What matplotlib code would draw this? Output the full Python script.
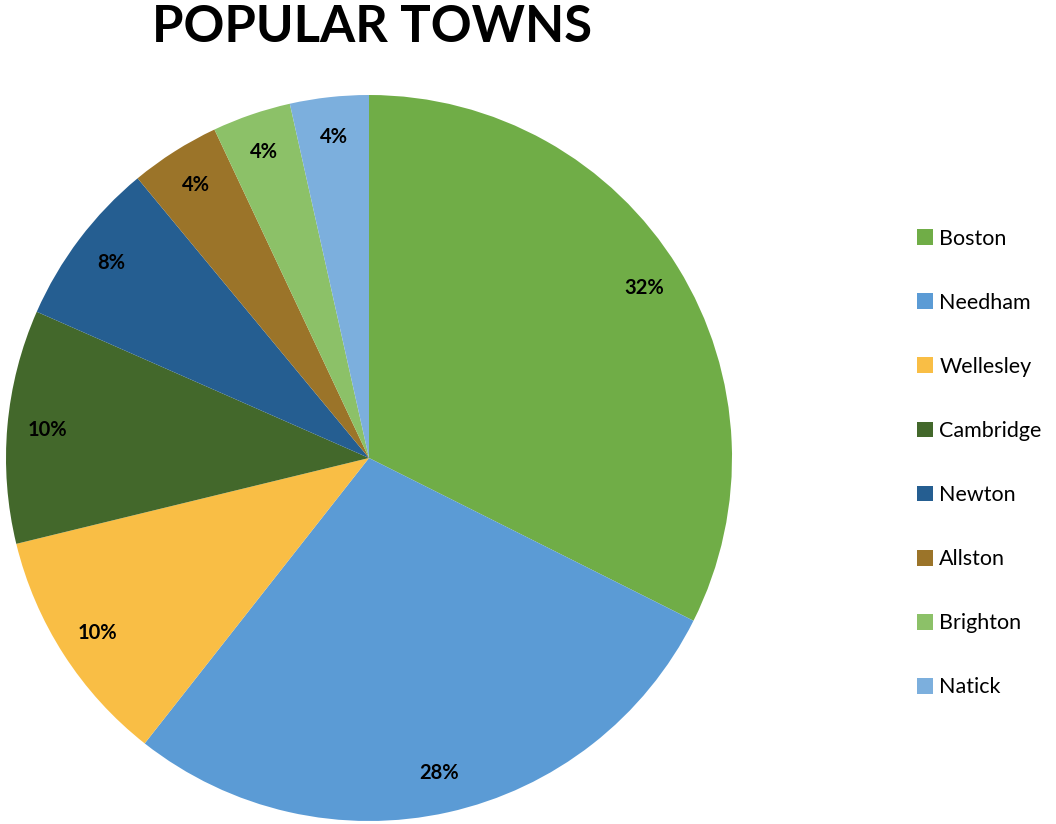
import matplotlib.pyplot as plt

# Data (wedge sizes, labels as printed)
towns = ['Boston', 'Needham', 'Wellesley', 'Cambridge', 'Newton', 'Allston', 'Brighton', 'Natick']
shares = [32.4, 28.2, 10.6, 10.4, 7.4, 4.0, 3.5, 3.5]
pct_labels = ['32%', '28%', '10%', '10%', '8%', '4%', '4%', '4%']
colors = ['#70AD47', '#5B9BD5', '#F9BE45', '#43682B', '#255E91', '#9B7429', '#8CC168', '#7CAFDD']

plt.rcParams['font.family'] = ['Lato', 'DejaVu Sans']

fig = plt.figure(figsize=(10.56, 8.24), dpi=100)
ax = fig.add_axes([6 / 1056, 3 / 824, 726 / 1056, 726 / 824])

wedges, texts, autotexts = ax.pie(
    shares, colors=colors, startangle=90, counterclock=False,
    autopct='%1.0f%%', pctdistance=0.89,
    textprops={'fontsize': 14.5, 'fontweight': 'bold', 'color': 'black'},
)
for t, lab in zip(autotexts, pct_labels):
    t.set_text(lab)
ax.set_xlim(-1, 1)
ax.set_ylim(-1, 1)
ax.set_aspect('equal')

fig.text(372 / 1056, 1 - 28 / 824, 'POPULAR TOWNS', ha='center', va='center',
         fontsize=36.5, fontweight='bold')

fig.legend(wedges, towns, loc='center left', bbox_to_anchor=(908 / 1056, 1 - 463 / 824),
           frameon=False, fontsize=15.5, handlelength=0.75, handleheight=0.75,
           handletextpad=0.3, labelspacing=2.05, borderaxespad=0)

fig.savefig('out.png', dpi=100)
